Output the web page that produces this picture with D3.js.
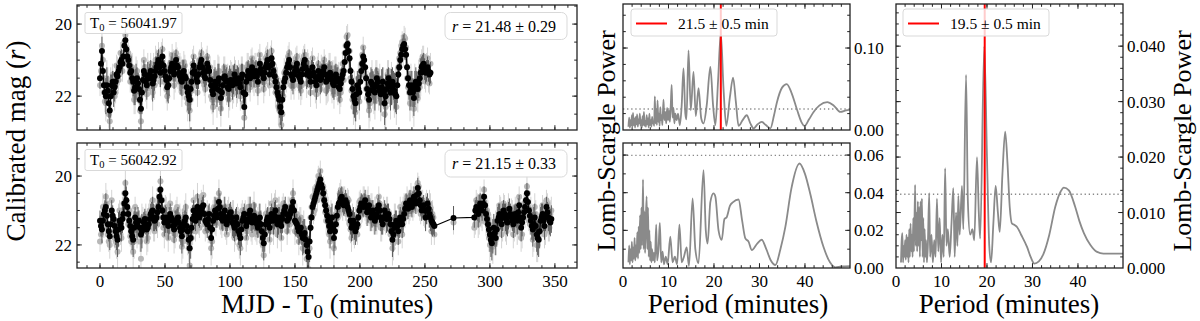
<!DOCTYPE html>
<html><head><meta charset="utf-8">
<script src="https://cdn.jsdelivr.net/npm/d3@7"></script>
<style>
body{margin:0;background:#fff}
text{font-family:"Liberation Serif","Times New Roman",serif;fill:#000}
</style>
</head><body>
<svg id="c" width="1200" height="321"></svg>
<script>
// ---------------- DATA ----------------
// Light curves: exposures every 1.5 min, with a second interleaved set offset by 0.75 min
const lcStep = 1.5, lcHalf = 0.75;
// Light curve 1 (T0 = 56041.97)
const lc1Start = 0;
const lc1Black = [
21.5,20.75,21.7,22.0,21.85,22.4,21.7,21.9,21.6,21.45,
21.2,21.0,20.9,20.45,20.9,21.15,21.3,21.6,21.75,21.5,
21.8,22.35,21.55,21.4,21.7,21.5,21.3,21.65,21.45,21.2,
21.0,21.35,20.9,21.3,21.55,21.7,21.3,21.1,21.4,21.0,
21.2,21.45,21.6,21.3,21.5,21.9,22.1,21.6,21.15,21.4,
21.6,21.2,21.0,21.35,21.5,21.1,21.3,21.7,21.95,21.6,
21.8,21.5,22.05,21.7,21.45,21.6,21.8,21.55,21.7,21.4,
21.65,21.5,21.75,21.4,22.3,21.6,21.3,21.5,21.2,21.45,
21.3,21.6,21.1,21.35,21.5,21.2,21.0,21.4,20.95,21.3,
21.6,21.9,22.1,22.45,21.75,21.5,21.2,21.0,21.4,21.55,
21.3,21.1,21.45,21.6,21.25,21.0,21.4,21.3,21.6,21.2,
21.45,21.7,21.3,21.55,21.4,21.2,21.6,21.5,21.35,21.55,
21.7,21.4,21.6,21.8,21.5,21.3,20.8,20.55,20.95,21.6,
22.0,22.2,21.7,21.9,21.3,20.9,21.2,21.8,22.1,21.6,
21.7,21.9,21.5,21.75,21.95,21.6,22.2,21.8,21.5,21.9,
21.6,21.85,22.0,21.4,21.0,20.7,20.55,20.85,21.5,21.9,
21.7,22.05,21.6,21.8,21.5,21.2,21.1,21.35,21.2,21.4];
const lc1BlackMid = [
21.1,21.3,21.9,21.7,22.2,22.0,21.6,21.75,21.4,21.3,
21.05,21.1,20.6,20.7,21.0,21.35,21.5,21.85,21.6,21.65,
22.1,21.9,21.3,21.6,21.45,21.4,21.5,21.55,21.3,21.1,
21.2,21.1,21.15,21.45,21.75,21.5,21.2,21.3,21.2,21.15,
21.35,21.55,21.4,21.45,21.75,22.0,21.8,21.35,21.3,21.5,
21.4,21.1,21.2,21.45,21.3,21.2,21.55,21.85,21.75,21.7,
21.6,21.85,21.9,21.5,21.55,21.75,21.65,21.6,21.55,21.55,
21.55,21.65,21.5,21.9,21.95,21.45,21.4,21.35,21.3,21.35,
21.45,21.35,21.25,21.4,21.35,21.1,21.2,21.15,21.1,21.45,
21.75,22.0,22.3,22.1,21.6,21.35,21.1,21.2,21.45,21.4,
21.2,21.3,21.5,21.4,21.1,21.2,21.35,21.45,21.4,21.35,
21.6,21.5,21.45,21.5,21.3,21.4,21.55,21.4,21.45,21.65,
21.55,21.5,21.75,21.65,21.4,21.05,20.6,20.75,21.3,21.8,
22.1,21.95,21.8,21.6,21.1,21.0,21.5,21.95,21.85,21.65,
21.8,21.7,21.6,21.85,21.75,21.9,22.0,21.65,21.7,21.75,
21.7,21.95,21.7,21.2,20.85,20.6,20.7,21.2,21.7,21.8,
21.9,21.8,21.7,21.65,21.35,21.15,21.25,21.3,21.3,21.35];
const lc1Gray = [
21.7,20.6,21.9,22.2,21.6,22.7,21.9,21.7,21.9,21.2,
21.4,20.8,21.1,20.3,21.1,20.9,21.5,21.8,22.0,21.3,
22.1,22.7,21.8,21.2,21.95,21.3,21.1,21.9,21.7,21.0,
20.8,21.6,20.7,21.6,21.8,21.5,21.1,20.85,21.7,20.8,
21.5,21.2,21.9,21.05,21.8,22.2,22.4,21.85,20.9,21.7,
21.9,21.0,20.8,21.6,21.8,20.9,21.55,22.0,22.3,21.4,
22.1,21.3,22.35,21.95,21.2,21.85,22.1,21.3,21.95,21.2,
21.9,21.3,22.0,21.2,22.6,21.85,21.1,21.75,20.95,21.7,
21.1,21.85,20.85,21.6,21.8,20.95,20.8,21.7,20.75,21.55,
21.9,21.7,22.4,22.8,22.0,21.3,21.45,20.8,21.7,21.3,
21.55,20.9,21.7,21.85,21.0,20.85,21.65,21.1,21.9,20.95,
21.7,21.95,21.1,21.8,21.2,21.0,21.85,21.75,21.1,21.8,
21.95,21.2,21.85,22.1,21.3,21.55,20.6,20.3,20.75,21.85,
22.3,22.45,21.95,22.15,21.1,20.65,21.45,22.05,22.4,21.85,
21.95,22.15,21.3,22.0,22.2,21.85,22.5,22.05,21.3,22.15,
21.85,22.1,22.3,21.2,20.8,20.5,20.35,20.65,21.75,22.2,
21.95,22.35,21.85,22.05,21.75,21.0,20.9,21.6,20.95,21.65];
const lc1GrayMid = [
21.3,21.0,22.15,21.5,22.5,21.8,21.4,22.0,21.15,21.55,
20.8,21.3,20.5,20.9,20.8,21.6,21.2,22.1,21.4,21.9,
22.4,21.6,21.0,21.85,21.2,21.7,21.8,21.3,21.0,21.4,
21.45,20.9,21.4,21.2,22.0,21.25,21.45,21.0,21.5,20.95,
21.6,21.3,21.7,21.15,22.05,21.75,22.1,21.1,21.55,21.25,
21.2,21.35,20.95,21.7,21.1,21.45,21.2,22.1,21.5,21.95,
21.35,22.1,21.65,21.3,21.8,21.5,21.9,21.35,21.8,21.3,
21.8,21.4,21.3,22.2,21.7,21.2,21.7,21.1,21.6,21.1,
21.7,21.1,21.5,21.2,21.6,20.9,21.5,20.9,21.4,21.7,
21.5,22.3,22.0,22.5,21.35,21.6,20.9,21.5,21.2,21.7,
20.95,21.5,21.2,21.7,20.9,21.4,21.1,21.7,21.15,21.6,
21.9,21.3,21.7,21.25,21.6,21.15,21.8,21.2,21.7,21.4,
21.3,21.8,21.45,21.9,21.1,20.8,20.35,21.0,21.5,22.1,
21.8,22.2,21.5,21.4,20.85,21.3,21.8,21.7,22.2,21.4,
22.1,21.5,21.85,21.5,22.05,21.6,22.3,21.4,22.0,21.55,
22.0,21.7,21.4,20.95,20.6,20.9,20.4,21.5,21.9,21.6,
22.2,21.6,22.0,21.4,21.6,20.9,21.5,21.1,21.6,21.1];
const lc1Err = [
.3,.4,.3,.5,.4,.6,.3,.4,.3,.3,
.3,.3,.2,.3,.3,.3,.4,.4,.5,.3,
.4,.6,.3,.3,.4,.3,.3,.5,.4,.3,
.3,.4,.3,.3,.4,.5,.3,.3,.4,.3,
.3,.4,.4,.3,.4,.5,.6,.4,.3,.3,
.4,.3,.3,.3,.4,.3,.3,.4,.5,.4,
.5,.4,.5,.4,.3,.4,.5,.3,.4,.3,
.4,.3,.4,.3,.6,.4,.3,.4,.3,.3,
.3,.4,.3,.3,.4,.3,.3,.3,.3,.3,
.4,.5,.5,.6,.4,.3,.3,.3,.4,.4,
.3,.3,.4,.4,.3,.3,.4,.3,.4,.3,
.3,.4,.3,.4,.3,.3,.4,.4,.3,.4,
.4,.3,.4,.4,.3,.3,.3,.3,.3,.4,
.5,.5,.4,.5,.3,.3,.3,.4,.5,.4,
.4,.5,.3,.4,.5,.4,.6,.4,.3,.5,
.4,.5,.5,.3,.3,.3,.3,.3,.4,.5,
.4,.5,.4,.4,.4,.3,.3,.3,.3,.3];

// Light curve 2 (T0 = 56042.92): segment A from 0, one isolated point, segment B from 288
const lc2StartA = 0, lc2SingleT = 272, lc2StartB = 288;
const lc2BlackA = [
21.3,21.55,21.1,20.9,21.4,21.75,21.0,21.25,21.6,21.85,
21.3,21.5,21.1,20.5,20.9,21.3,21.6,21.85,21.2,21.45,
21.3,21.7,21.5,21.25,21.55,21.4,21.1,21.0,21.3,21.2,
20.9,20.4,21.0,21.35,21.2,21.45,21.1,21.3,21.55,21.3,
21.2,21.5,21.75,21.4,21.2,21.6,22.1,21.5,21.0,21.3,
20.9,21.2,21.0,20.85,21.3,21.4,21.1,21.8,21.3,21.0,
21.2,20.75,21.1,21.3,21.0,21.4,21.2,21.05,21.35,21.5,
21.2,21.6,21.8,21.3,21.1,21.45,21.25,21.0,21.35,21.15,
21.3,21.5,21.2,21.6,21.95,21.4,21.2,21.5,21.1,21.3,
21.0,21.4,21.2,21.45,21.1,20.9,21.3,21.2,21.0,20.75,
21.3,21.4,21.6,21.5,21.8,21.65,22.0,22.35,21.5,20.9,
20.7,20.5,20.3,20.1,20.35,20.7,21.0,21.3,21.6,21.2,
21.8,21.4,20.9,20.75,20.6,20.85,20.7,20.9,21.1,21.5,
21.3,21.6,21.4,21.0,20.8,20.9,20.7,21.05,20.85,21.2,
21.0,21.3,21.1,20.85,21.2,21.4,21.0,21.25,21.1,21.4,
21.85,21.5,21.3,21.6,21.2,21.4,21.1,20.8,20.95,20.7,
20.9,20.6,20.8,20.35,20.7,21.0,20.85,21.2,20.8,21.1,
21.3,21.4];
const lc2BlackAMid = [
21.45,21.3,21.0,21.15,21.6,21.4,21.15,21.45,21.75,21.55,
21.4,21.25,20.8,20.7,21.1,21.45,21.75,21.5,21.35,21.3,
21.5,21.6,21.35,21.4,21.5,21.25,21.05,21.2,21.25,21.05,
20.6,20.7,21.2,21.25,21.35,21.3,21.2,21.45,21.4,21.25,
21.35,21.6,21.55,21.3,21.45,21.85,21.8,21.25,21.15,21.1,
21.05,21.1,20.9,21.1,21.35,21.25,21.5,21.55,21.15,21.1,
20.95,20.9,21.25,21.15,21.2,21.3,21.1,21.2,21.4,21.35,
21.4,21.7,21.55,21.2,21.3,21.35,21.1,21.2,21.25,21.2,
21.4,21.35,21.4,21.8,21.7,21.3,21.35,21.3,21.2,21.15,
21.2,21.3,21.35,21.25,21.0,21.1,21.25,21.1,20.9,21.0,
21.35,21.5,21.55,21.7,21.75,21.85,22.2,21.9,21.2,20.8,
20.6,20.4,20.2,20.25,20.5,20.85,21.15,21.45,21.4,21.5,
21.6,21.15,20.8,20.65,20.75,20.8,20.8,21.0,21.3,21.4,
21.45,21.5,21.2,20.9,20.85,20.8,20.9,20.95,21.0,21.1,
21.15,21.2,20.95,21.0,21.3,21.2,21.1,21.2,21.25,21.6,
21.7,21.4,21.45,21.4,21.3,21.25,20.95,20.85,20.8,20.8,
20.75,20.7,20.55,20.5,20.85,20.9,21.0,21.0,20.95,21.2,
21.35,21.45];
const lc2GrayA = [
21.9,21.2,21.5,20.6,21.7,22.0,20.7,21.6,21.9,22.2,
21.0,21.8,20.8,20.2,21.2,21.0,21.9,22.2,20.9,21.7,
21.6,22.4,21.2,21.55,21.9,21.1,21.4,20.7,21.6,20.9,
21.2,20.15,20.7,21.7,20.9,21.8,20.8,21.6,21.85,21.0,
21.5,21.2,22.05,21.7,20.9,21.9,22.6,21.8,20.7,21.6,
20.6,21.5,20.7,20.55,21.6,21.1,21.4,22.1,21.0,21.3,
20.9,20.5,21.4,21.0,21.3,21.7,20.9,21.35,21.1,21.8,
21.5,21.3,22.1,21.0,21.4,21.8,20.9,21.3,21.7,20.85,
21.6,21.2,21.5,21.9,22.3,21.1,21.5,21.85,20.8,21.6,
20.7,21.7,20.9,21.8,20.8,21.2,21.6,20.9,21.3,20.5,
21.6,21.1,21.9,21.2,22.1,21.9,22.4,22.7,21.2,20.6,
21.0,20.3,20.0,19.85,20.6,20.45,21.3,21.0,21.9,21.5,
22.1,21.1,21.2,20.5,20.9,20.6,21.0,20.65,21.4,21.8,
21.6,21.3,21.7,20.75,21.1,20.6,21.0,20.8,21.15,20.9,
21.3,21.0,21.4,20.6,21.5,21.1,21.3,21.0,21.45,21.7,
22.1,21.2,21.6,21.9,20.9,21.7,20.8,21.1,20.7,21.0,
20.6,20.9,20.5,20.2,21.0,20.7,21.15,20.9,21.1,20.8,
21.6,21.2];
const lc2GrayAMid = [
21.7,20.9,21.3,20.8,21.9,21.1,21.4,21.8,22.0,21.3,
21.7,21.0,20.5,20.9,21.4,21.75,21.3,21.9,21.1,21.6,
21.9,21.3,21.6,21.1,21.8,21.0,21.3,21.5,20.95,21.4,
20.4,21.0,21.5,20.95,21.6,21.1,21.5,21.2,21.7,20.9,
21.6,21.35,21.9,21.0,21.7,22.1,21.5,21.6,20.9,21.4,
21.3,20.8,21.2,21.4,21.1,21.55,21.2,21.9,20.9,21.35,
20.7,21.1,21.5,20.9,21.45,21.0,21.4,21.5,21.1,21.6,
21.1,22.0,21.3,21.5,21.0,21.6,20.9,21.5,21.0,21.45,
21.7,21.1,21.7,22.0,21.5,21.6,21.0,21.6,21.4,20.9,
21.45,21.0,21.6,21.0,21.3,21.35,21.0,21.4,20.7,21.2,
21.1,21.7,21.3,21.9,21.5,22.1,22.0,22.1,20.9,21.1,
20.4,20.7,20.05,20.5,20.3,21.05,20.9,21.7,21.2,21.8,
21.35,20.95,21.1,20.4,21.0,20.6,21.1,20.7,21.55,21.2,
21.7,21.2,21.45,20.7,21.05,20.6,21.1,20.7,21.3,20.9,
21.4,21.0,21.2,20.8,21.5,20.9,21.4,21.0,21.55,21.3,
21.95,21.2,21.7,21.2,21.5,21.0,21.2,20.6,21.1,20.5,
21.0,20.5,20.8,20.3,21.1,20.7,21.2,20.8,21.2,20.9,
21.1,21.7];
const lc2ErrA = [
.3,.4,.3,.4,.3,.4,.3,.3,.4,.5,
.3,.4,.3,.4,.3,.3,.4,.5,.3,.4,
.3,.5,.3,.3,.4,.3,.3,.4,.3,.4,
.3,.4,.3,.4,.3,.4,.3,.3,.4,.3,
.3,.4,.5,.3,.4,.4,.6,.4,.3,.3,
.4,.3,.3,.3,.3,.4,.3,.5,.3,.4,
.3,.4,.3,.3,.4,.3,.3,.3,.4,.4,
.3,.4,.5,.3,.3,.4,.3,.4,.3,.4,
.3,.3,.4,.4,.5,.3,.3,.4,.3,.4,
.3,.4,.3,.4,.3,.3,.4,.3,.3,.4,
.4,.3,.4,.3,.5,.4,.5,.6,.4,.3,
.3,.3,.3,.3,.3,.3,.4,.4,.5,.4,
.5,.3,.4,.3,.3,.3,.3,.3,.4,.4,
.4,.4,.3,.3,.3,.3,.3,.4,.3,.4,
.3,.4,.3,.3,.4,.3,.3,.4,.3,.3,
.5,.4,.3,.4,.3,.4,.3,.3,.3,.3,
.3,.3,.3,.3,.3,.3,.3,.4,.3,.4,
.4,.3];
const lc2SingleBlack = 21.22, lc2SingleGray = 21.35, lc2SingleErr = 0.35;
const lc2BlackB = [
21.2,20.9,21.1,20.8,21.0,20.6,21.1,21.4,21.7,21.95,
21.5,21.8,21.3,21.1,21.4,21.0,21.2,21.35,20.95,21.2,
21.4,21.1,21.3,20.85,21.5,21.2,20.9,20.5,21.0,21.3,
21.55,21.2,21.7,21.85,21.3,21.1,21.45,20.9,21.2,21.35];
const lc2BlackBMid = [
21.0,21.0,20.95,20.9,20.8,20.85,21.25,21.55,21.85,21.75,
21.65,21.55,21.2,21.25,21.2,21.1,21.3,21.15,21.1,21.3,
21.25,21.2,21.05,21.2,21.35,21.05,20.7,20.75,21.15,21.45,
21.4,21.45,21.8,21.6,21.2,21.3,21.2,21.05,21.3,21.25];
const lc2GrayB = [
21.5,20.7,21.4,20.6,21.3,20.4,21.35,21.1,22.0,21.7,
21.8,21.5,21.6,20.85,21.7,20.8,21.5,21.1,21.2,20.95,
21.7,20.9,21.6,20.6,21.8,20.95,21.2,20.3,21.3,21.0,
21.85,20.9,22.0,21.6,21.55,20.85,21.7,20.7,21.5,21.1];
const lc2GrayBMid = [
21.4,20.8,21.3,21.2,20.6,21.1,21.0,21.8,21.6,22.05,
21.9,21.3,21.5,20.9,21.5,20.85,21.6,20.9,21.4,21.0,
21.5,20.95,21.4,20.9,21.7,20.8,21.0,20.5,21.4,21.2,
21.7,21.1,22.0,21.35,21.5,21.0,21.6,20.8,21.5,21.0];
const lc2ErrB = [
.3,.3,.4,.3,.3,.3,.4,.4,.5,.5,
.4,.5,.4,.3,.4,.3,.4,.4,.3,.3,
.4,.3,.4,.3,.4,.3,.3,.3,.3,.4,
.5,.4,.5,.5,.4,.3,.4,.3,.4,.4];

// Periodograms: [period (min), power]
const pgTop = [
[1.2,0.004],[1.35,0.015],[1.5,0.003],[1.65,0.012],[1.8,0.005],[1.95,0.018],[2.1,0.004],[2.2,0.021],[2.35,0.006],[2.5,0.014],
[2.65,0.003],[2.8,0.016],[2.95,0.007],[3.1,0.019],[3.25,0.004],[3.4,0.013],[3.55,0.008],[3.7,0.02],[3.85,0.005],[4.0,0.012],
[4.15,0.003],[4.3,0.017],[4.45,0.006],[4.6,0.022],[4.75,0.005],[4.9,0.011],[5.05,0.004],[5.2,0.018],[5.35,0.007],[5.5,0.014],
[5.65,0.003],[5.8,0.02],[5.95,0.006],[6.1,0.012],[6.25,0.004],[6.4,0.016],[6.55,0.008],[6.7,0.01],[6.85,0.005],
[7.0,0.041],[7.15,0.008],[7.3,0.025],[7.45,0.006],[7.6,0.036],[7.75,0.01],[7.9,0.02],[8.05,0.005],[8.2,0.028],[8.35,0.012],
[8.5,0.018],[8.65,0.006],[8.9,0.037],[9.1,0.012],[9.3,0.022],[9.5,0.008],[9.7,0.027],[9.9,0.012],[10.1,0.024],[10.3,0.01],
[10.5,0.03],[10.7,0.055],[10.9,0.015],[11.1,0.027],[11.3,0.008],[11.5,0.02],[11.8,0.012],[12.1,0.02],[12.5,0.006],[12.9,0.03],
[13.3,0.075],[13.7,0.02],[13.95,0.013],[14.4,0.097],[14.9,0.024],[15.5,0.071],[16.0,0.017],[16.6,0.051],[17.2,0.014],[17.7,0.008],
[18.4,0.03],[19.2,0.077],[19.8,0.03],[20.3,0.006],[20.9,0.06],[21.5,0.118],[22.1,0.05],[22.7,0.005],[23.5,0.04],[24.2,0.064],
[24.8,0.035],[25.4,0.005],[26.3,0.012],[27.2,0.018],[28.0,0.008],[28.7,0.002],[29.6,0.007],[30.5,0.0098],[31.4,0.006],[32.4,0.002],
[33.2,0.018],[33.8,0.033],[35,0.052],[36,0.056],[37,0.046],[38.3,0.024],[39.2,0.01],[39.9,0.005],[40.9,0.013],[41.9,0.022],
[43.2,0.03],[44.9,0.034],[46.3,0.03],[47.8,0.022],[49,0.024],[50,0.025]];
const pgBottom = [
[1.2,0.003],[1.35,0.012],[1.5,0.002],[1.65,0.01],[1.8,0.004],[1.95,0.014],[2.1,0.003],[2.25,0.011],[2.4,0.005],[2.55,0.016],
[2.7,0.004],[2.85,0.012],[3.0,0.006],[3.15,0.019],[3.3,0.005],[3.45,0.022],[3.6,0.008],[3.75,0.028],[3.9,0.01],[4.05,0.032],
[4.2,0.012],[4.4,0.047],[4.55,0.01],[4.7,0.03],[4.85,0.008],[5.0,0.024],[5.2,0.038],[5.35,0.01],[5.5,0.032],[5.65,0.006],
[5.8,0.02],[5.95,0.004],[6.1,0.014],[6.25,0.003],[6.4,0.01],[6.6,0.004],[6.8,0.008],[7.0,0.003],[7.3,0.023],[7.5,0.004],
[7.8,0.01],[8.1,0.024],[8.4,0.003],[8.7,0.0087],[9.0,0.002],[9.4,0.006],[9.8,0.002],[10.4,0.0166],[10.9,0.003],[11.4,0.006],
[11.9,0.002],[12.4,0.023],[12.9,0.003],[13.4,0.006],[14.0,0.011],[14.5,0.001],[15.3,0.037],[15.9,0.01],[16.6,0.0026],[17.7,0.052],
[18.2,0.02],[18.6,0.013],[19.2,0.035],[19.9,0.0396],[20.3,0.038],[21.0,0.02],[21.7,0.0149],[22.3,0.026],[22.8,0.027],[23.5,0.033],
[24.2,0.035],[25.4,0.0364],[26.2,0.025],[26.9,0.0157],[27.6,0.014],[28.3,0.0095],[29.5,0.013],[30.5,0.015],[31.5,0.01],[32.5,0.004],
[33.5,0.0016],[34.6,0.01],[35.7,0.022],[37,0.042],[38.8,0.0555],[40,0.05],[41.2,0.039],[42.5,0.025],[44.1,0.011],[45.5,0.003],
[46.7,0.0003],[48,0.0008],[50,0.001]];
const pgRight = [
[1.1,0.001],[1.25,0.005],[1.4,0.0063],[1.55,0.001],[1.7,0.004],[1.85,0.002],[2.0,0.005],[2.15,0.0015],[2.3,0.006],[2.45,0.002],
[2.6,0.0055],[2.75,0.001],[2.9,0.007],[3.05,0.002],[3.2,0.008],[3.35,0.003],[3.5,0.006],[3.65,0.002],[3.8,0.009],[3.95,0.003],
[4.2,0.015],[4.35,0.004],[4.5,0.01],[4.65,0.003],[4.8,0.012],[4.95,0.004],[5.1,0.011],[5.25,0.002],[5.4,0.012],[5.55,0.005],
[5.7,0.0125],[5.85,0.002],[6.0,0.009],[6.15,0.001],[6.3,0.007],[6.45,0.002],[6.6,0.005],[6.8,0.001],[7.0,0.004],[7.3,0.0135],
[7.5,0.002],[7.8,0.006],[8.1,0.001],[8.4,0.005],[8.7,0.002],[9.0,0.0125],[9.3,0.003],[9.6,0.009],[9.9,0.001],[10.2,0.006],
[10.5,0.002],[10.8,0.018],[11.1,0.004],[11.4,0.007],[11.8,0.002],[12.2,0.008],[12.6,0.0144],[12.9,0.002],[13.2,0.01],[13.5,0.004],
[13.7,0.013],[14.0,0.006],[14.5,0.0148],[14.8,0.007],[15.4,0.0348],[15.8,0.012],[16.3,0.006],[16.8,0.007],[17.2,0.005],[17.8,0.02],
[18.2,0.01],[18.5,0.0053],[19.4,0.04],[20.0,0.02],[20.5,0.004],[20.9,0.001],[21.4,0.008],[21.9,0.0148],[22.4,0.01],[22.8,0.0065],
[23.4,0.017],[24.0,0.0246],[24.5,0.019],[25.0,0.011],[25.5,0.008],[26.0,0.0078],[26.6,0.0074],[27.5,0.006],[28.8,0.0038],[29.6,0.002],
[30.4,0.0008],[31.4,0.0012],[32.4,0.0025],[33.7,0.006],[35,0.011],[36.2,0.0138],[36.9,0.0145],[38,0.014],[39.4,0.011],[40.3,0.0085],
[41.3,0.0063],[42.7,0.0042],[44.2,0.0029],[45.6,0.0026],[47.1,0.0026],[50,0.0026]];

// false-alarm thresholds and detected periods
const fapTop = 0.0256, fapBottom = 0.0598, fapRight = 0.0133;
const periodTop = 21.5, periodRight = 19.5;
const legendTop = "21.5 ± 0.5 min", legendRight = "19.5 ± 0.5 min";
const t0Labels = ["56041.97", "56042.92"];
const magLabels = ["21.48 ± 0.29", "21.15 ± 0.33"];

// tick values
const lcTicksX = [0,50,100,150,200,250,300,350];
const magTicks = [20,22];
const periodTicks = [0,10,20,30,40];
const pgTopTicks = [0,0.10];
const pgBottomTicks = [0,0.02,0.04,0.06];
const pgRightTicks = [0,0.01,0.02,0.03,0.04];

// ---------------- DRAW ----------------
const svg = d3.select("#c");
svg.append("rect").attr("width",1200).attr("height",321).attr("fill","#fff");

const xLC = d3.scaleLinear().domain([-17.7, 367]).range([77, 577]);
const yLC1 = d3.scaleLinear().domain([19.47, 22.94]).range([5, 130]);
const yLC2 = d3.scaleLinear().domain([19.04, 22.67]).range([143, 268]);
const xPM = d3.scaleLinear().domain([0, 49.9]).range([623, 850]);
const yPT = d3.scaleLinear().domain([0, 0.1537]).range([130, 4]);
const yPB = d3.scaleLinear().domain([0, 0.0664]).range([268, 143]);
const xPR = d3.scaleLinear().domain([0, 49.9]).range([896, 1123]);
const yPR = d3.scaleLinear().domain([0, 0.0476]).range([268, 4]);

let clipId = 0;
function makeClip(x, y) {
  const [xa, xb] = d3.extent(x.range()), [ya, yb] = d3.extent(y.range());
  const id = "clip" + (clipId++);
  svg.append("clipPath").attr("id", id).append("rect")
    .attr("x", xa).attr("y", ya).attr("width", xb - xa).attr("height", yb - ya);
  return svg.append("g").attr("clip-path", `url(#${id})`);
}

function frameAndTicks(x, y, o) {
  const [X0, X1] = d3.extent(x.range()), [Y0, Y1] = d3.extent(y.range());
  const g = svg.append("g");
  const ML = 4.8, mL = 2.8;
  const seg = (x1, y1, x2, y2) => g.append("line").attr("x1",x1).attr("y1",y1).attr("x2",x2).attr("y2",y2)
      .attr("stroke","#222").attr("stroke-width",1);
  (o.xMinor||[]).forEach(v => { const p = x(v); if (p < X0+0.5 || p > X1-0.5) return; seg(p,Y1,p,Y1-mL); seg(p,Y0,p,Y0+mL); });
  (o.xMajor||[]).forEach(v => { const p = x(v); if (p < X0+0.5 || p > X1-0.5) return; seg(p,Y1,p,Y1-ML); seg(p,Y0,p,Y0+ML); });
  (o.yMinor||[]).forEach(v => { const p = y(v); if (p < Y0+0.5 || p > Y1-0.5) return; seg(X0,p,X0+mL,p); seg(X1,p,X1-mL,p); });
  (o.yMajor||[]).forEach(v => { const p = y(v); if (p < Y0+0.5 || p > Y1-0.5) return; seg(X0,p,X0+ML,p); seg(X1,p,X1-ML,p); });
  g.append("rect").attr("x",X0).attr("y",Y0).attr("width",X1-X0).attr("height",Y1-Y0)
    .attr("fill","none").attr("stroke","#222").attr("stroke-width",1.3);
  if (o.xLabels) {
    g.selectAll(null).data(o.xMajor).enter().append("text")
      .attr("x", d => x(d)).attr("y", Y1 + 18.5).attr("text-anchor","middle")
      .attr("font-size", 17).text(d => d);
  }
  if (o.yLabels === "left") {
    g.selectAll(null).data(o.yMajor).enter().append("text")
      .attr("x", X0 - 5).attr("y", d => y(d) + 6).attr("text-anchor","end")
      .attr("font-size", 17).text(o.yFmt);
  } else if (o.yLabels === "right") {
    g.selectAll(null).data(o.yMajor).enter().append("text")
      .attr("x", X1 + 4).attr("y", d => y(d) + 6).attr("text-anchor","start")
      .attr("font-size", 17).text(o.yFmt);
  }
}

const range = (a, b, s) => d3.range(a, b + 1e-9, s);

function lightCurve(y, black, gray) {
  const g = makeClip(xLC, y);
  g.selectAll(null).data(gray).enter().append("line")
    .attr("x1", d => xLC(d.t)).attr("x2", d => xLC(d.t))
    .attr("y1", d => y(d.m - d.e)).attr("y2", d => y(d.m + d.e))
    .attr("stroke", "#d4d4d4").attr("stroke-width", 1);
  g.selectAll(null).data(gray).enter().append("circle")
    .attr("cx", d => xLC(d.t)).attr("cy", d => y(d.m)).attr("r", 3)
    .attr("fill", "#b8b8b8");
  g.selectAll(null).data(black).enter().append("line")
    .attr("x1", d => xLC(d.t)).attr("x2", d => xLC(d.t))
    .attr("y1", d => y(d.m - d.e)).attr("y2", d => y(d.m + d.e))
    .attr("stroke", "#5a5a5a").attr("stroke-width", 1);
  g.append("path").datum(black)
    .attr("d", d3.line().x(d => xLC(d.t)).y(d => y(d.m)))
    .attr("fill","none").attr("stroke","#000").attr("stroke-width",1.1);
  g.selectAll(null).data(black).enter().append("circle")
    .attr("cx", d => xLC(d.t)).attr("cy", d => y(d.m)).attr("r", 3)
    .attr("fill", "#000");
}

function series(start, vals, errs) {
  return vals.map((m, i) => ({ t: start + i * lcStep, m, e: errs[i] }));
}
const byT = (a, b) => a.t - b.t;

const lc1B = [...series(lc1Start, lc1Black, lc1Err), ...series(lc1Start + lcHalf, lc1BlackMid, lc1Err)].sort(byT);
const lc1G = [...series(lc1Start, lc1Gray, lc1Err), ...series(lc1Start + lcHalf, lc1GrayMid, lc1Err)].sort(byT);
lightCurve(yLC1, lc1B, lc1G);
const lc2B = [...series(lc2StartA, lc2BlackA, lc2ErrA), ...series(lc2StartA + lcHalf, lc2BlackAMid, lc2ErrA),
  {t: lc2SingleT, m: lc2SingleBlack, e: lc2SingleErr},
  ...series(lc2StartB, lc2BlackB, lc2ErrB), ...series(lc2StartB + lcHalf, lc2BlackBMid, lc2ErrB)].sort(byT);
const lc2G = [...series(lc2StartA, lc2GrayA, lc2ErrA), ...series(lc2StartA + lcHalf, lc2GrayAMid, lc2ErrA),
  {t: lc2SingleT, m: lc2SingleGray, e: lc2SingleErr},
  ...series(lc2StartB, lc2GrayB, lc2ErrB), ...series(lc2StartB + lcHalf, lc2GrayBMid, lc2ErrB)].sort(byT);
lightCurve(yLC2, lc2B, lc2G);

const lcMinorX = range(-10, 360, 10);
frameAndTicks(xLC, yLC1, {xMajor: lcTicksX, xMinor: lcMinorX, yMajor: magTicks, yMinor: range(19.5, 23, 0.5), yLabels: "left", yFmt: d => d});
frameAndTicks(xLC, yLC2, {xMajor: lcTicksX, xMinor: lcMinorX, yMajor: magTicks, yMinor: range(19.5, 23, 0.5), yLabels: "left", yFmt: d => d, xLabels: true});

function t0Box(xp, yp, val) {
  svg.append("rect").attr("x", xp).attr("y", yp).attr("width", 97).attr("height", 21).attr("rx", 2)
    .attr("fill", "#fff").attr("fill-opacity", 0.85).attr("stroke", "#d9d9d9").attr("stroke-width", 1);
  const t = svg.append("text").attr("x", xp + 5).attr("y", yp + 15.5).attr("font-size", 15);
  t.append("tspan").text("T");
  t.append("tspan").attr("dy", 3).attr("font-size", 10.5).text("0");
  t.append("tspan").attr("dy", -3).text(" = " + val);
}
function magBox(xp, yp, val) {
  svg.append("rect").attr("x", xp).attr("y", yp).attr("width", 122).attr("height", 27).attr("rx", 5.5)
    .attr("fill", "#fff").attr("fill-opacity", 0.85).attr("stroke", "#d9d9d9").attr("stroke-width", 1);
  const t = svg.append("text").attr("x", xp + 7).attr("y", yp + 19).attr("font-size", 16);
  t.append("tspan").attr("font-style", "italic").text("r");
  t.append("tspan").text(" = " + val);
}
t0Box(85, 12.5, t0Labels[0]);
magBox(445, 12.5, magLabels[0]);
t0Box(85, 149.5, t0Labels[1]);
magBox(445, 150, magLabels[1]);

function pgLine(g, x, y, data) {
  g.append("path").datum(data)
    .attr("d", d3.line().x(d => x(d[0])).y(d => y(d[1])).curve(d3.curveMonotoneX))
    .attr("fill","none").attr("stroke","#8a8a8a").attr("stroke-width",1.8).attr("stroke-linejoin","round");
}
function fapLine(g, x, y, v) {
  g.append("line").attr("x1", x.range()[0]).attr("x2", x.range()[1]).attr("y1", y(v)).attr("y2", y(v))
    .attr("stroke", "#888").attr("stroke-width", 1.3).attr("stroke-dasharray", "1.3,2.8");
}
function redLine(g, x, y, v) {
  g.append("line").attr("x1", x(v)).attr("x2", x(v)).attr("y1", y.range()[0]).attr("y2", y.range()[1])
    .attr("stroke", "#ff0000").attr("stroke-width", 2);
}
function legend(xp, yp, label) {
  svg.append("rect").attr("x", xp).attr("y", yp).attr("width", 146).attr("height", 27).attr("rx", 3)
    .attr("fill", "#fff").attr("fill-opacity", 0.8).attr("stroke", "#d9d9d9").attr("stroke-width", 1);
  svg.append("line").attr("x1", xp + 5).attr("x2", xp + 36).attr("y1", yp + 14.5).attr("y2", yp + 14.5)
    .attr("stroke", "#ff0000").attr("stroke-width", 2);
  svg.append("text").attr("x", xp + 47).attr("y", yp + 19.5).attr("font-size", 15.5).text(label);
}

const gPT = makeClip(xPM, yPT);
pgLine(gPT, xPM, yPT, pgTop); fapLine(gPT, xPM, yPT, fapTop); redLine(gPT, xPM, yPT, periodTop);
const gPB = makeClip(xPM, yPB);
pgLine(gPB, xPM, yPB, pgBottom); fapLine(gPB, xPM, yPB, fapBottom);
const gPR = makeClip(xPR, yPR);
pgLine(gPR, xPR, yPR, pgRight); fapLine(gPR, xPR, yPR, fapRight); redLine(gPR, xPR, yPR, periodRight);

const pMinor = range(0, 50, 2);
frameAndTicks(xPM, yPT, {xMajor: periodTicks, xMinor: pMinor, yMajor: pgTopTicks, yMinor: range(0, 0.16, 0.02), yLabels: "right", yFmt: d => d3.format(".2f")(d)});
frameAndTicks(xPM, yPB, {xMajor: periodTicks, xMinor: pMinor, yMajor: pgBottomTicks, yMinor: range(0, 0.066, 0.01), yLabels: "right", yFmt: d => d3.format(".2f")(d), xLabels: true});
frameAndTicks(xPR, yPR, {xMajor: periodTicks, xMinor: pMinor, yMajor: pgRightTicks, yMinor: range(0, 0.048, 0.002), yLabels: "right", yFmt: d => d3.format(".3f")(d), xLabels: true});

legend(631, 9, legendTop);
legend(903, 9, legendRight);

const xt = svg.append("text").attr("x", 327).attr("y", 313).attr("text-anchor","middle").attr("font-size", 27);
xt.append("tspan").text("MJD - T");
xt.append("tspan").attr("dy", 5).attr("font-size", 19).text("0");
xt.append("tspan").attr("dy", -5).text(" (minutes)");
svg.append("text").attr("x", 738).attr("y", 313).attr("text-anchor","middle").attr("font-size", 27).text("Period (minutes)");
svg.append("text").attr("x", 1009).attr("y", 313).attr("text-anchor","middle").attr("font-size", 27).text("Period (minutes)");
const yt = svg.append("text").attr("transform","translate(25,141) rotate(-90)").attr("text-anchor","middle").attr("font-size", 27);
yt.append("tspan").text("Calibrated mag (");
yt.append("tspan").attr("font-style","italic").text("r");
yt.append("tspan").text(")");
svg.append("text").attr("transform","translate(615,141) rotate(-90)").attr("text-anchor","middle").attr("font-size", 26).text("Lomb-Scargle Power");
svg.append("text").attr("transform","translate(1191,141) rotate(-90)").attr("text-anchor","middle").attr("font-size", 26).text("Lomb-Scargle Power");
</script>
</body></html>
